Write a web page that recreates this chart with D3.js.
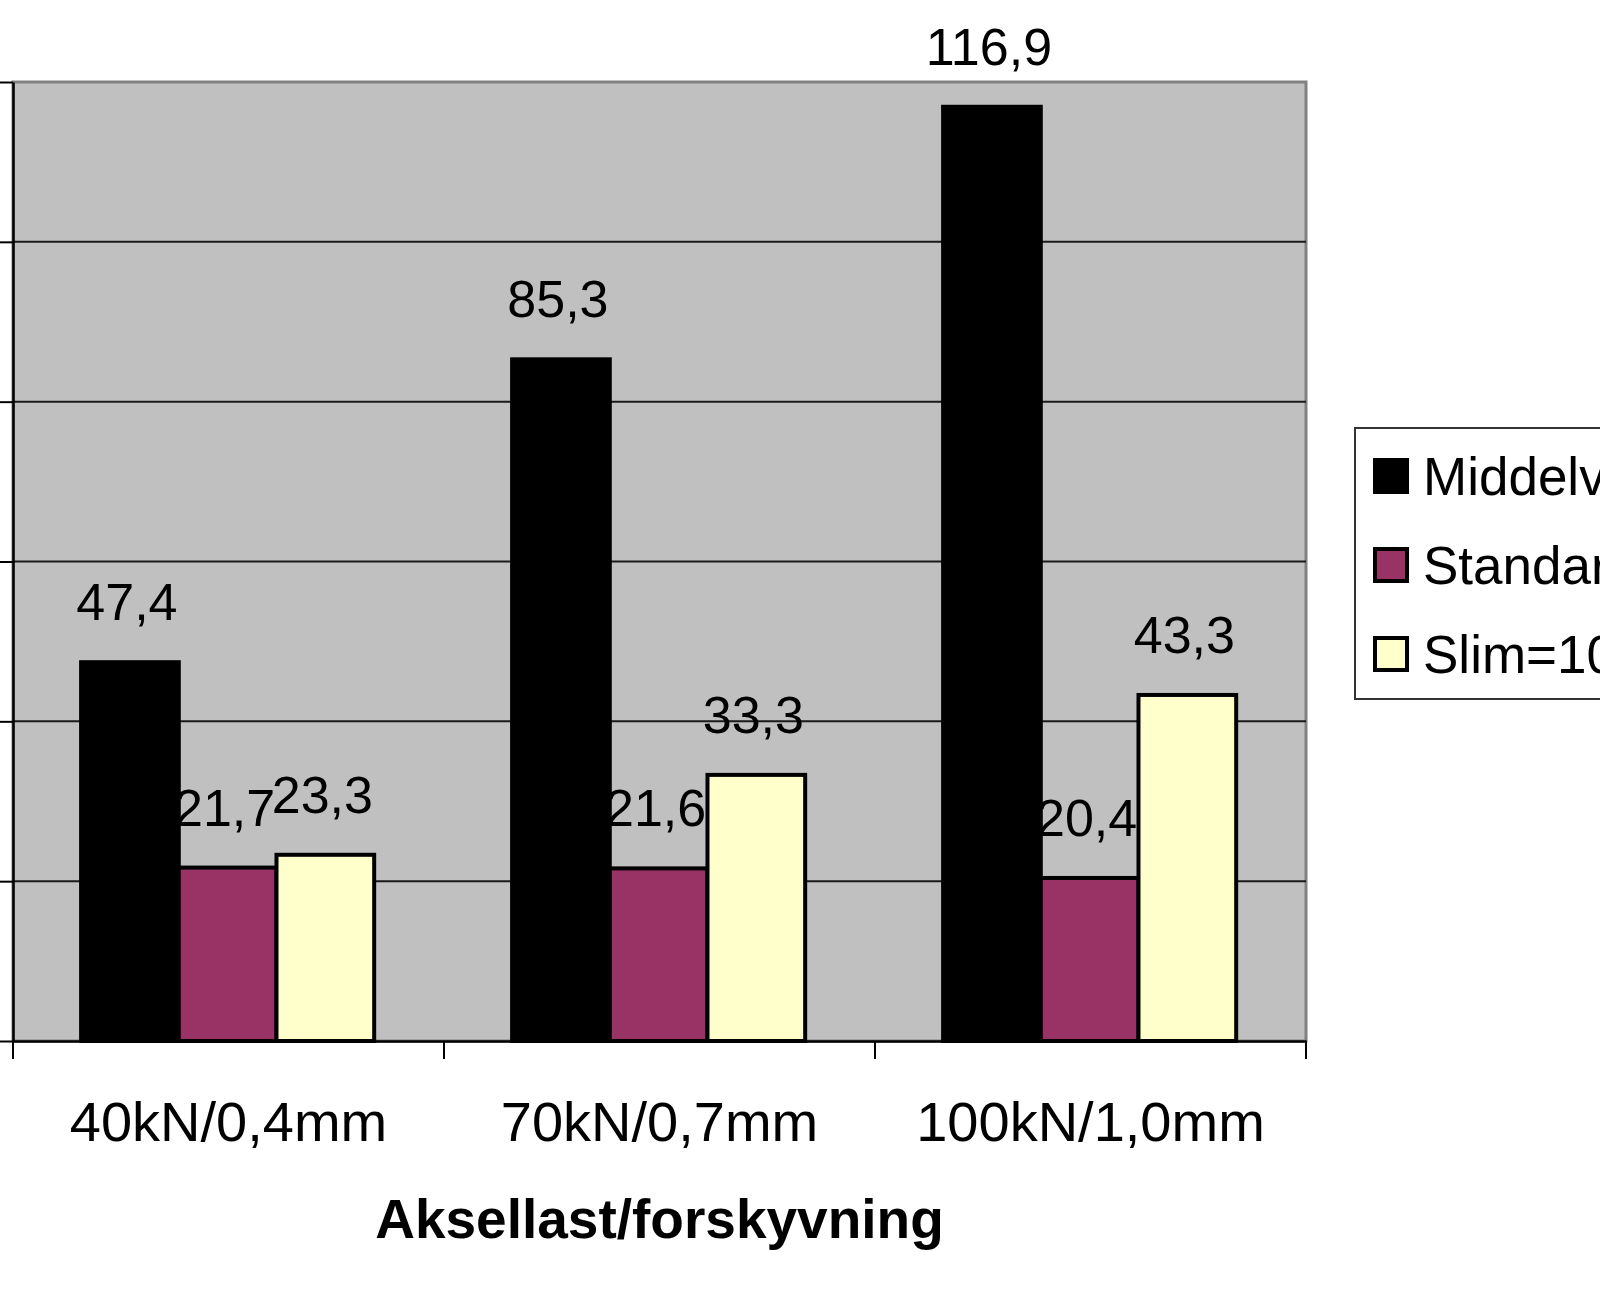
<!DOCTYPE html>
<meta charset="utf-8">
<style>
body { margin: 0; background: #fff; }
svg { display: block; font-family: "Liberation Sans", Arial, sans-serif; }
.grid line { stroke: #1a1a1a; stroke-width: 2px; }
</style>
<script src="https://d3js.org/d3.v7.min.js"></script>
<body>
<svg id="chart" width="1600" height="1290"></svg>
<script>
// data
var categories = ["40kN/0,4mm", "70kN/0,7mm", "100kN/1,0mm"];
var series = ["Middelverdi", "Standardavvik", "Slim=10%"];
var middel = [47.4, 85.3, 116.9];
var standard = [21.7, 21.6, 20.4];
var slim = [23.3, 33.3, 43.3];
var colors = ["#000000", "#993366", "#ffffcc"];
var yTicks = [0, 20, 40, 60, 80, 100, 120];

var values = [middel, standard, slim];

var svg = d3.select("#chart");

// plot area edges ("top" is taken by window.top)
var plotLeft = 13, plotRight = 1306, plotTop = 82, plotBottom = 1041;

var y = d3.scaleLinear().domain([0, 120]).range([plotBottom, plotTop]);
var x0 = d3.scaleBand().domain(categories).range([plotLeft, plotRight]);
var bw = x0.bandwidth();
var x1 = d3.scaleBand().domain(series).range([bw * 0.158, bw * 0.838]);

// plot area
svg.append("rect")
    .attr("x", plotLeft).attr("y", plotTop)
    .attr("width", plotRight - plotLeft).attr("height", plotBottom - plotTop)
    .attr("fill", "#c0c0c0")
    .attr("stroke", "#808080")
    .attr("stroke-width", 3);

// gridlines
svg.append("g").attr("class", "grid")
  .selectAll("line")
  .data(yTicks.slice(1, -1))
  .enter().append("line")
    .attr("x1", plotLeft).attr("x2", plotRight)
    .attr("y1", function(d) { return y(d); })
    .attr("y2", function(d) { return y(d); });

// bars
series.forEach(function(s, i) {
  svg.append("g")
    .selectAll("rect")
    .data(categories)
    .enter().append("rect")
      .attr("x", function(c) { return x0(c) + x1(s); })
      .attr("y", function(c, j) { return y(values[i][j]); })
      .attr("width", x1.bandwidth())
      .attr("height", function(c, j) { return plotBottom - y(values[i][j]); })
      .attr("fill", colors[i])
      .attr("stroke", "#000")
      .attr("stroke-width", 4);
});

// value labels
series.forEach(function(s, i) {
  svg.append("g")
    .selectAll("text")
    .data(categories)
    .enter().append("text")
      .attr("x", function(c) { return x0(c) + x1(s) + x1.bandwidth() / 2 - 3; })
      .attr("y", function(c, j) { return y(values[i][j]) - 42; })
      .attr("text-anchor", "middle")
      .attr("font-size", 52)
      .attr("fill", "#000")
      .text(function(c, j) { return String(values[i][j]).replace(".", ","); });
});

// y axis, its labels are cropped away in the reference
var yAxis = svg.append("g")
    .attr("transform", "translate(" + plotLeft + ",0)")
    .call(d3.axisLeft(y).tickValues(yTicks).tickSize(20).tickSizeOuter(0).tickFormat(""));
yAxis.select(".domain").attr("stroke", "#000").attr("stroke-width", 2.5);
yAxis.selectAll(".tick line").attr("stroke", "#000").attr("stroke-width", 2);

// x axis
var xAxis = svg.append("g")
    .attr("transform", "translate(0," + plotBottom + ")")
    .call(d3.axisBottom(x0).tickSize(0).tickSizeOuter(0));
xAxis.select(".domain").attr("stroke", "#000").attr("stroke-width", 2.5);
xAxis.selectAll(".tick text")
    .attr("font-size", 56)
    .attr("font-family", "Liberation Sans, Arial, sans-serif")
    .attr("fill", "#000")
    .attr("dy", 0)
    .attr("y", 100);

// category boundary ticks
svg.append("g")
  .selectAll("line")
  .data(d3.range(categories.length + 1))
  .enter().append("line")
    .attr("x1", function(i) { return plotLeft + i * bw; })
    .attr("x2", function(i) { return plotLeft + i * bw; })
    .attr("y1", plotBottom)
    .attr("y2", plotBottom + 18)
    .attr("stroke", "#000")
    .attr("stroke-width", 2);

// axis title
svg.append("text")
    .attr("x", (plotLeft + plotRight) / 2)
    .attr("y", 1238)
    .attr("text-anchor", "middle")
    .attr("font-size", 55)
    .attr("font-weight", "bold")
    .text("Aksellast/forskyvning");

// legend
var legend = svg.append("g").attr("transform", "translate(1355,428)");
legend.append("rect")
    .attr("width", 300).attr("height", 271)
    .attr("fill", "#fff")
    .attr("stroke", "#333")
    .attr("stroke-width", 2);
series.forEach(function(s, i) {
  var row = legend.append("g").attr("transform", "translate(0," + (i * 89) + ")");
  row.append("rect")
      .attr("x", 20).attr("y", 32)
      .attr("width", 32).attr("height", 32)
      .attr("fill", colors[i])
      .attr("stroke", "#000")
      .attr("stroke-width", 4);
  row.append("text")
      .attr("x", 68).attr("y", 67)
      .attr("font-size", 53)
      .text(s);
});
</script>
</body>
